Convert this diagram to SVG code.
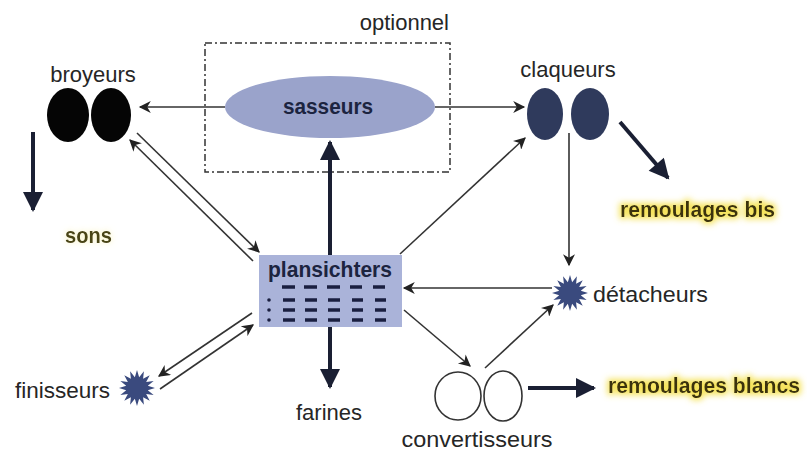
<svg xmlns="http://www.w3.org/2000/svg" width="807" height="459" viewBox="0 0 807 459">
<style>
text{font-family:"Liberation Sans",Arial,sans-serif;font-size:22px;fill:#222}
.lbl{fill:#262626}
.thin{stroke:#333;stroke-width:1.6;fill:none}
.thick{stroke:#1a1f33;stroke-width:4;fill:none}
.hl{fill:#3a3210;font-weight:bold}
.dash{stroke:#1a1f40;stroke-width:3.5;stroke-linecap:butt}
.dot{fill:#1a1f40}
</style>
<defs>
<marker id="ah" viewBox="0 0 10 10" refX="9" refY="5" markerWidth="14" markerHeight="12" markerUnits="userSpaceOnUse" orient="auto">
<path d="M0,0 L10,5 L0,10 L3,5 Z" fill="#222"/>
</marker>
<marker id="ahT" viewBox="0 0 10 10" refX="9" refY="5" markerWidth="22" markerHeight="20" markerUnits="userSpaceOnUse" orient="auto">
<path d="M0,0 L10,5 L0,10 Z" fill="#1a1f33"/>
</marker>
<filter id="glow" x="-10%" y="-40%" width="120%" height="180%">
<feMorphology in="SourceAlpha" operator="dilate" radius="2" result="d"/>
<feGaussianBlur in="d" stdDeviation="3" result="b"/>
<feFlood flood-color="#f4e04a" flood-opacity="0.9"/>
<feComposite in2="b" operator="in" result="g"/>
<feMerge><feMergeNode in="g"/><feMergeNode in="SourceGraphic"/></feMerge>
</filter>
<filter id="glow2" x="-20%" y="-40%" width="140%" height="180%">
<feGaussianBlur in="SourceAlpha" stdDeviation="3" result="b"/>
<feFlood flood-color="#f6ec9a" flood-opacity="0.7"/>
<feComposite in2="b" operator="in" result="g"/>
<feMerge><feMergeNode in="g"/><feMergeNode in="SourceGraphic"/></feMerge>
</filter>
<polygon id="star" fill="#3a4a7e" points="18,0 10.79,2.15 16.63,6.89 9.15,6.11 12.73,12.73 6.11,9.15 6.89,16.63 2.15,10.79 0,18 -2.15,10.79 -6.89,16.63 -6.11,9.15 -12.73,12.73 -9.15,6.11 -16.63,6.89 -10.79,2.15 -18,0 -10.79,-2.15 -16.63,-6.89 -9.15,-6.11 -12.73,-12.73 -6.11,-9.15 -6.89,-16.63 -2.15,-10.79 0,-18 2.15,-10.79 6.89,-16.63 6.11,-9.15 12.73,-12.73 9.15,-6.11 16.63,-6.89 10.79,-2.15"/>
</defs>
<rect width="807" height="459" fill="#fff"/>

<g id="optionnel">
<rect x="205" y="43" width="245" height="129" fill="none" stroke="#333" stroke-width="1.5" stroke-dasharray="7 3 2 3"/>
<text x="449" y="30" text-anchor="end" class="lbl">optionnel</text>
</g>

<g id="connectors">
<line class="thin" x1="225" y1="107" x2="140" y2="107" marker-end="url(#ah)"/>
<line class="thin" x1="435" y1="107" x2="524" y2="107" marker-end="url(#ah)"/>
<line class="thick" x1="33" y1="132" x2="33" y2="210" marker-end="url(#ahT)"/>
<line class="thick" x1="620" y1="122" x2="668" y2="178" marker-end="url(#ahT)"/>
<line class="thick" x1="330" y1="255" x2="330" y2="142" marker-end="url(#ahT)"/>
<line class="thick" x1="330" y1="327" x2="330" y2="387" marker-end="url(#ahT)"/>
<line class="thick" x1="528" y1="388" x2="594" y2="388" marker-end="url(#ahT)"/>
<line class="thin" x1="137" y1="133" x2="259" y2="252" marker-end="url(#ah)"/>
<line class="thin" x1="253" y1="261" x2="130" y2="140" marker-end="url(#ah)"/>
<line class="thin" x1="252" y1="313" x2="159" y2="376" marker-end="url(#ah)"/>
<line class="thin" x1="160" y1="389" x2="253" y2="325" marker-end="url(#ah)"/>
<line class="thin" x1="400" y1="254" x2="525" y2="138" marker-end="url(#ah)"/>
<line class="thin" x1="569" y1="133" x2="569" y2="265" marker-end="url(#ah)"/>
<line class="thin" x1="552" y1="288" x2="404" y2="288" marker-end="url(#ah)"/>
<line class="thin" x1="404" y1="310" x2="470" y2="366" marker-end="url(#ah)"/>
<line class="thin" x1="485" y1="368" x2="553" y2="305" marker-end="url(#ah)"/>
</g>

<g id="broyeurs">
<ellipse cx="68" cy="115" rx="21" ry="27" fill="#050505"/>
<ellipse cx="111" cy="115" rx="20" ry="27" fill="#050505"/>
<text x="93" y="82" text-anchor="middle" class="lbl">broyeurs</text>
</g>

<g id="sons">
<text x="65" y="243" class="hl" filter="url(#glow2)" style="fill:#4a4418" textLength="47" lengthAdjust="spacingAndGlyphs">sons</text>
</g>

<g id="sasseurs">
<ellipse cx="330" cy="107" rx="105" ry="31" fill="#9aa3cb"/>
<text x="328" y="114" text-anchor="middle" style="fill:#1c2440;font-weight:bold" textLength="90" lengthAdjust="spacingAndGlyphs">sasseurs</text>
</g>

<g id="claqueurs">
<ellipse cx="545" cy="114" rx="18" ry="26" fill="#2f3a5c"/>
<ellipse cx="590" cy="114" rx="19" ry="26" fill="#2f3a5c"/>
<text x="568" y="77" text-anchor="middle" class="lbl">claqueurs</text>
</g>

<g id="remoulages-bis">
<text x="620" y="217" class="hl" filter="url(#glow)" textLength="155" lengthAdjust="spacingAndGlyphs">remoulages bis</text>
</g>

<g id="plansichters">
<rect x="259" y="255" width="143" height="72" fill="#aab3d9"/>
<text x="330" y="277" text-anchor="middle" style="fill:#1c2440;font-weight:bold" textLength="124" lengthAdjust="spacingAndGlyphs">plansichters</text>
<g class="dash">
<line x1="282" y1="287" x2="295" y2="287"/><line x1="304" y1="287" x2="317" y2="287"/><line x1="327" y1="287" x2="340" y2="287"/><line x1="350" y1="287" x2="362" y2="287"/><line x1="373" y1="287" x2="385" y2="287"/>
<line x1="283" y1="300" x2="295" y2="300"/><line x1="305" y1="300" x2="317" y2="300"/><line x1="328" y1="300" x2="340" y2="300"/><line x1="352" y1="300" x2="363" y2="300"/><line x1="375" y1="300" x2="386" y2="300"/>
<line x1="283" y1="310" x2="295" y2="310"/><line x1="305" y1="310" x2="317" y2="310"/><line x1="328" y1="310" x2="340" y2="310"/><line x1="352" y1="310" x2="363" y2="310"/><line x1="375" y1="310" x2="386" y2="310"/>
<line x1="283" y1="320" x2="295" y2="320"/><line x1="305" y1="320" x2="317" y2="320"/><line x1="328" y1="320" x2="340" y2="320"/><line x1="352" y1="320" x2="363" y2="320"/><line x1="375" y1="320" x2="386" y2="320"/>
</g>
<circle class="dot" cx="269" cy="300" r="1.8"/>
<circle class="dot" cx="269" cy="310" r="1.8"/>
<circle class="dot" cx="269" cy="320" r="1.8"/>
</g>

<g id="farines">
<text x="329" y="420" text-anchor="middle" class="lbl">farines</text>
</g>

<g id="finisseurs">
<use href="#star" x="137" y="388"/>
<text x="15" y="398" class="lbl" textLength="95" lengthAdjust="spacingAndGlyphs">finisseurs</text>
</g>

<g id="detacheurs">
<use href="#star" x="570" y="293"/>
<text x="593" y="302" class="lbl" textLength="115" lengthAdjust="spacingAndGlyphs">détacheurs</text>
</g>

<g id="convertisseurs">
<ellipse cx="458" cy="396" rx="23" ry="24" fill="none" stroke="#333" stroke-width="1.6"/>
<ellipse cx="503" cy="396" rx="19" ry="25" fill="none" stroke="#333" stroke-width="1.6"/>
<text x="477" y="447" text-anchor="middle" class="lbl" textLength="151" lengthAdjust="spacingAndGlyphs">convertisseurs</text>
</g>

<g id="remoulages-blancs">
<text x="608" y="393" class="hl" filter="url(#glow)" textLength="192" lengthAdjust="spacingAndGlyphs">remoulages blancs</text>
</g>
</svg>
